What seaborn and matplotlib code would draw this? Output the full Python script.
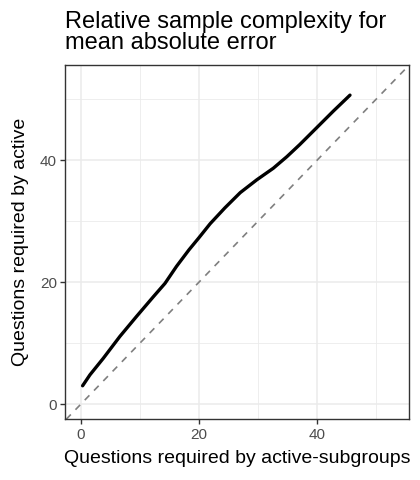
import matplotlib
matplotlib.use("Agg")
import matplotlib.pyplot as plt
import seaborn as sns
import pandas as pd

# Data
x_subgroups = [0.28, 1.53, 3.78, 6.6, 9.44, 12.26, 14.24, 16.2, 18.3, 20.0,
               21.9, 24.4, 27.0, 29.8, 32.6, 34.9, 37.1, 39.9, 42.8, 45.6]
y_active = [3.0, 4.8, 7.5, 11.1, 14.4, 17.6, 19.8, 22.6, 25.3, 27.3,
            29.6, 32.2, 34.7, 36.8, 38.7, 40.6, 42.6, 45.3, 48.1, 50.7]
major_ticks = [0, 20, 40]
minor_ticks = [10, 30, 50]
title = "Relative sample complexity for\nmean absolute error"
xlabel = "Questions required by active-subgroups"
ylabel = "Questions required by active"

df = pd.DataFrame({"x": x_subgroups, "y": y_active})

sns.set_theme(style="white")
plt.rcParams["font.family"] = ["Liberation Sans", "DejaVu Sans"]

fig = plt.figure(figsize=(4.2, 4.8), dpi=100)
ax = fig.add_axes([0.1555, 0.1265, 0.819, 0.7375])

ax.set_xlim(-2.65, 55.65)
ax.set_ylim(-2.5, 55.6)
ax.set_xticks(major_ticks)
ax.set_yticks(major_ticks)
ax.set_xticks(minor_ticks, minor=True)
ax.set_yticks(minor_ticks, minor=True)
ax.grid(True, which="major", color="#EBEBEB", linewidth=1.1)
ax.grid(True, which="minor", color="#EBEBEB", linewidth=0.6)
ax.set_axisbelow(True)

ax.axline((0, 0), slope=1, color="#7F7F7F", linestyle=(0, (4, 4)), linewidth=1.2, zorder=2)
sns.lineplot(data=df, x="x", y="y", color="black", linewidth=2.4, ax=ax, zorder=3)

for s in ax.spines.values():
    s.set_color("#333333")
    s.set_linewidth(1.0)

ax.tick_params(which="major", length=3.5, width=1.0, color="#333333", labelcolor="#4D4D4D",
               labelsize=11, bottom=True, left=True, pad=2.5)
ax.tick_params(which="minor", length=0)

ax.set_xlabel(xlabel, fontsize=14, color="black", labelpad=6)
ax.set_ylabel(ylabel, fontsize=14, color="black", labelpad=8)
fig.text(0.1555, 0.977, title, fontsize=17, ha="left", va="top", color="black", linespacing=0.95)

fig.savefig("out.png", dpi=100, facecolor="white")
